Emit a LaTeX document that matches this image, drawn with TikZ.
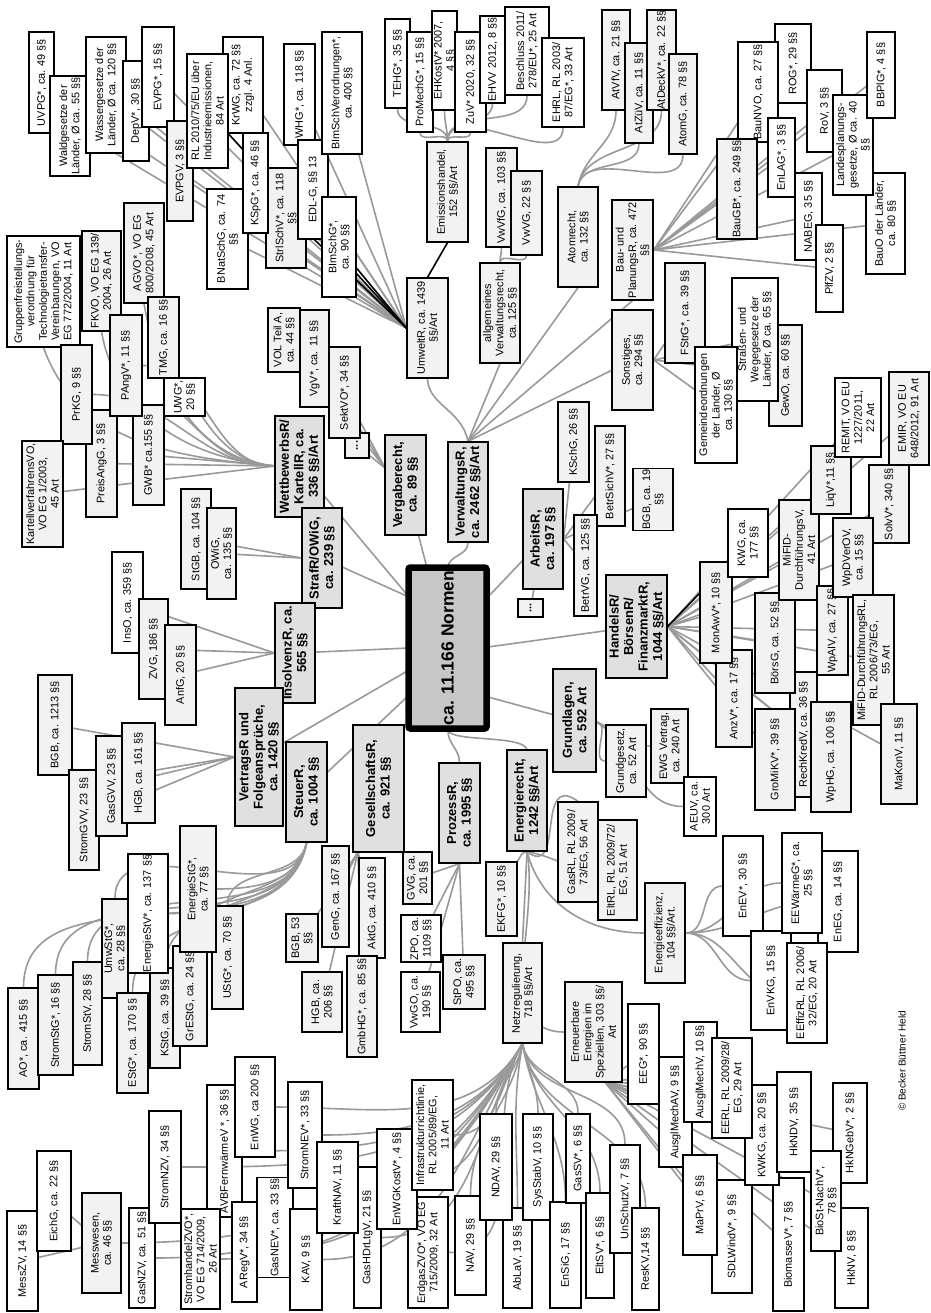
\documentclass[tikz,border=0pt]{standalone}
\usepackage{fontspec}
\setmainfont{Liberation Sans}
\usetikzlibrary{backgrounds}
\definecolor{lg}{gray}{0.95}
\definecolor{cg}{gray}{0.88}
\definecolor{ctr}{gray}{0.78}
\definecolor{ln}{gray}{0.6}
\newcommand{\bx}[7]{\node[#6, minimum width={(#5)-(#3)}, minimum height={(#4)-(#2)}] (#1) at ({((#2)+(#4))/2},{((#3)+(#5))/2}) {#7};}
\tikzset{
 bb/.style={draw=black, line width=1.3pt, rotate=90, align=center, inner sep=0.8pt, font=\fontsize{10.9}{12.3}\selectfont},
 lf/.style={bb, fill=lg},
 lw/.style={bb, fill=white},
 cat/.style={bb, fill=cg, font=\bfseries\fontsize{13}{14.5}\selectfont},
 cn/.style={draw=ln, line width=1.6pt},
 bk/.style={draw=black, line width=1.6pt}
}
\begin{document}
\begin{tikzpicture}[x=1pt,y=-1pt]
\useasboundingbox (0,0) rectangle (930,1313);
% ---------- Umwelt
\bx{uvpg}{29}{32}{54}{133}{lw}{UVPG*, ca. 49 §§}
\bx{wald}{50}{76}{90}{176}{lw}{Waldgesetze der\\Länder, Ø ca. 55 §§}
\bx{wass}{86}{37}{126}{153}{lw}{Wassergesetze der\\Länder, Ø ca. 120 §§}
\bx{depv}{123}{61}{149}{161}{lw}{DepV*, 30 §§}
\bx{evpg}{142}{27}{174}{127}{lw}{EVPG*, 15 §§}
\bx{evpgv}{167}{121}{193}{221}{lf}{EVPGV, 3 §§}
\bx{krwg}{223}{37}{263}{133}{lw}{KrWG, ca. 72 §§\\zzgl. 4 Anl.}
\bx{rl2010}{187}{54}{228}{168}{lw}{RL 2010/75/EU über\\Industrieemissionen,\\84 Art}
\bx{bnat}{207}{189}{248}{289}{lw}{BNatSchG, ca. 74\\§§}
\bx{strl}{266}{168}{306}{268}{lf}{StrlSchV*, ca. 118\\§§}
\bx{kspg}{243}{133}{268}{233}{lw}{KSpG*, ca. 46 §§}
\bx{whg}{284}{44}{315}{145}{lw}{WHG*, ca. 118 §§}
\bx{edlg}{298}{140}{328}{239}{lw}{EDL-G, §§ 13}
\bx{bimschvo}{322}{32}{362}{154}{lw}{BImSchVerordnungen*,\\ca. 400 §§}
\bx{bimschg}{322}{197}{356}{297}{lw}{BImSchG*,\\ca. 90 §§}
% ---------- Emissionshandel
\bx{tehg}{385}{19}{410}{108}{lw}{TEHG*, 35 §§}
\bx{promech}{407}{32}{433}{132}{lw}{ProMechG*, 15 §§}
\bx{ehkost}{432}{11}{457}{110}{lw}{EHKostV* 2007,\\4 §§}
\bx{zuv}{455}{32}{486}{132}{lw}{ZuV* 2020, 32 §§}
\bx{ehvv}{480}{16}{505}{103}{lw}{EHVV 2012, 8 §§}
\bx{beschl}{505}{7}{549}{95}{lw}{Beschluss 2011/\\278/EU*, 25 Art}
\bx{ehrl}{542}{38}{584}{127}{lw}{EHRL, RL 2003/\\87/EG*, 33 Art}
\bx{emiss}{427}{142}{468}{242}{lf}{Emissionshandel,\\152 §§/Art}
\bx{umwelt}{407}{278}{448}{378}{lf}{UmweltR, ca. 1439\\§§/Art}
\bx{vwvfg}{486}{148}{517}{247}{lf}{VwVfG, ca. 103 §§}
\bx{vwvg}{511}{171}{542}{255}{lf}{VwVG, 22 §§}
\bx{allg}{480}{263}{520}{363}{lf}{allgemeines\\Verwaltungsrecht,\\ca. 125 §§}
% ---------- Atom
\bx{atvfv}{602}{10}{630}{110}{lf}{AtVfV, ca. 21 §§}
\bx{atzuv}{625}{43}{653}{143}{lf}{AtZüV, ca. 11 §§}
\bx{atdeck}{647}{10}{676}{110}{lf}{AtDeckV*, ca. 22 §§}
\bx{atomg}{669}{54}{697}{154}{lf}{AtomG, ca. 78 §§}
\bx{atomr}{558}{187}{598}{287}{lf}{Atomrecht,\\ca. 132 §§}
% ---------- Bau
\bx{baupl}{612}{200}{653}{300}{lf}{Bau- und\\PlanungsR, ca. 472\\§§}
\bx{rog}{775}{24}{811}{103}{lw}{ROG*, 29 §§}
\bx{baunvo}{738}{42}{778}{142}{lw}{BauNVO, ca. 27 §§}
\bx{baugb}{717}{139}{757}{239}{lf}{BauGB*, ca. 249 §§}
\bx{enlag}{768}{118}{795}{197}{lw}{EnLAG*, 3 §§}
\bx{rov}{807}{70}{842}{152}{lw}{RoV, 3 §§}
\bx{nabeg}{795}{173}{822}{260}{lw}{NABEG, 35 §§}
\bx{plfzv}{816}{225}{843}{312}{lw}{PlfZV, 2 §§}
\bx{bauo}{866}{173}{905}{274}{lw}{BauO der Länder,\\ca. 80 §§}
\bx{landespl}{833}{95}{873}{195}{lw}{Landesplanungs-\\gesetze, Ø ca. 40\\§§}
\bx{bbplg}{867}{32}{895}{118}{lw}{BBPlG*, 4 §§}
% ---------- Sonstiges
\bx{sonst}{612}{310}{653}{410}{lf}{Sonstiges,\\ca. 294 §§}
\bx{fstrg}{665}{263}{705}{363}{lf}{FStrG*, ca. 39 §§}
\bx{gewo}{769}{325}{802}{426}{lf}{GewO, ca. 60 §§}
\bx{strassen}{732}{278}{778}{401}{lw}{Straßen- und\\Wegegesetze der\\Länder, Ø ca. 65 §§}
\bx{gemeinde}{695}{347}{737}{463}{lw}{Gemeindeordnungen\\der Länder, Ø\\ca. 130 §§}
% ---------- Wettbewerb
\bx{gruppen}{7}{236}{80}{347}{lw}{Gruppenfreistellungs-\\verordnung für\\Technologietransfer-\\Vereinbarungen, VO\\EG 772/2004, 11 Art}
\bx{fkvo}{82}{231}{121}{331}{lf}{FKVO, VO EG 139/\\2004, 26 Art}
\bx{agvo}{124}{203}{164}{303}{lf}{AGVO*, VO EG\\800/2008, 45 Art}
\bx{tmg}{148}{297}{179}{378}{lf}{TMG, ca. 16 §§}
\bx{preisang}{86}{410}{117}{517}{lf}{PreisAngG, 3 §§}
\bx{prkg}{61}{345}{92}{444}{lf}{PrKG, 9 §§}
\bx{gwb}{133}{405}{164}{505}{lf}{GWB* ca.155 §§}
\bx{pangv}{110}{315}{142}{416}{lf}{PAngV*, 11 §§}
\bx{uwg}{164}{378}{205}{416}{lw}{UWG*,\\20 §§}
\bx{kartell}{22}{441}{63}{547}{lf}{KartellverfahrensVO,\\VO EG 1/2003,\\45 Art}
% ---------- Vergabe
\bx{vol}{268}{308}{300}{372}{lf}{VOL Teil A,\\ca. 44 §§}
\bx{vgv}{300}{310}{329}{407}{lf}{VgV*, ca. 11 §§}
\bx{dots1}{345}{433}{369}{458}{lf}{\textbf{...}}
\bx{sektvo}{329}{347}{360}{438}{lf}{SektVO*, 34 §§}
\bx{verg}{385}{435}{426}{535}{cat}{Vergaberecht,\\ca. 89 §§}
% ---------- categories
\bx{wettb}{275}{416}{324}{517}{cat}{WettbewerbsR/\\KartellR, ca.\\336 §§/Art}
\bx{stgb}{181}{489}{211}{589}{lf}{StGB, ca. 104 §§}
\bx{owig}{207}{508}{236}{599}{lf}{OWiG,\\ca. 135 §§}
\bx{straf}{302}{508}{342}{608}{cat}{StrafR/OWiG,\\ca. 239 §§}
\bx{inso}{112}{552}{143}{653}{lw}{InsO, ca. 359 §§}
\bx{zvg}{139}{599}{168}{699}{lf}{ZVG, 186 §§}
\bx{anfg}{165}{625}{196}{725}{lf}{AnfG, 20 §§}
\bx{insolv}{275}{603}{315}{703}{cat}{InsolvenzR, ca.\\565 §§}
\bx{verw}{448}{442}{488}{542}{cat}{VerwaltungsR,\\ca. 2462 §§/Art}
\bx{arbeit}{523}{489}{563}{589}{cat}{ArbeitsR,\\ca. 197 §§}
\bx{dots2}{518}{599}{543}{617}{lf}{\textbf{...}}
\bx{kschg}{558}{402}{589}{482}{lf}{KSchG, 26 §§}
\bx{betrsich}{595}{426}{625}{526}{lf}{BetrSichV*, 27 §§}
\bx{betrvg}{574}{515}{597}{616}{lf}{BetrVG, ca. 125 §§}
\bx{bgbnn}{633}{472}{673}{527}{lf}{BGB, ca. 19\\§§}
\bx{handels}{606}{575}{667}{678}{cat}{HandelsR/\\BörsenR/\\FinanzmarktR,\\1044 §§/Art}
% ---------- Handels leaves
\bx{rechkred}{790}{672}{817}{797}{lf}{RechKredV, ca. 36 §§}
\bx{borsg}{755}{593}{795}{693}{lf}{BörsG, ca. 52 §§}
\bx{gromikv}{755}{709}{795}{810}{lf}{GroMiKV*, 39 §§}
\bx{wphg}{811}{702}{851}{812}{lf}{WpHG, ca. 100 §§}
\bx{anzv}{716}{650}{752}{747}{lf}{AnzV*, ca. 17 §§}
\bx{monawv}{700}{562}{732}{663}{lf}{MonAwV*, 10 §§}
\bx{kwg}{728}{509}{768}{577}{lw}{KWG, ca.\\177 §§}
\bx{mifidv}{779}{500}{819}{600}{lf}{MiFID-\\DurchführungsV,\\41 Art}
\bx{liqv}{811}{446}{851}{514}{lf}{LiqV*,11 §§}
\bx{remit}{835}{378}{881}{457}{lw}{REMIT, VO EU\\1227/2011,\\22 Art}
\bx{solvv}{869}{465}{909}{543}{lf}{SolvV*, 340 §§}
\bx{wpaiv}{817}{586}{848}{675}{lf}{WpAIV, ca. 27 §§}
\bx{wpdverov}{833}{518}{873}{597}{lf}{WpDVerOV,\\ca. 15 §§}
\bx{emir}{889}{372}{929}{465}{lf}{EMIR, VO EU\\648/2012, 91 Art}
\bx{mifidrl}{853}{595}{894}{725}{lf}{MiFID-DurchführungsRL,\\RL 2006/73/EG,\\55 Art}
\bx{makonv}{881}{704}{917}{804}{lf}{MaKonV, 11 §§}
% ---------- Grundlagen
\bx{grundl}{553}{669}{596}{772}{cat}{Grundlagen,\\ca. 592 Art}
\bx{gg}{606}{725}{646}{797}{lf}{Grundgesetz,\\ca. 52 Art}
\bx{ewg}{651}{709}{688}{783}{lf}{EWG Vertrag,\\ca. 240 Art}
\bx{aeuv}{684}{777}{716}{836}{lw}{AEUV, ca.\\300 Art}
% ---------- Vertrag
\bx{vertr}{235}{688}{283}{826}{cat}{VertragsR und\\Folgeansprüche,\\ca. 1420 §§}
\bx{bgbzt}{38}{675}{72}{775}{lf}{BGB, ca. 1213 §§}
\bx{stromgvv}{69}{770}{99}{870}{lf}{StromGVV, 23 §§}
\bx{gasgvv}{96}{736}{127}{836}{lf}{GasGVV, 23 §§}
\bx{hgbhs}{122}{723}{155}{823}{lf}{HGB, ca. 161 §§}
% ---------- Steuer
\bx{steuer}{286}{742}{327}{842}{cat}{SteuerR,\\ca. 1004 §§}
\bx{ao}{8}{988}{39}{1089}{lf}{AO*, ca. 415 §§}
\bx{stromstg}{38}{975}{73}{1075}{lf}{StromStG*, 16 §§}
\bx{stromstv}{73}{962}{102}{1065}{lf}{StromStV, 28 §§}
\bx{umwstg}{102}{899}{128}{998}{lf}{UmwStG*,\\ca. 28 §§}
\bx{estg}{117}{993}{148}{1093}{lf}{EStG*, ca. 170 §§}
\bx{kstg}{150}{968}{180}{1068}{lf}{KStG, ca. 39 §§}
\bx{grestg}{173}{946}{207}{1046}{lf}{GrEStG, ca. 24 §§}
\bx{energiestv}{128}{854}{168}{973}{lw}{EnergieStV*, ca. 137 §§}
\bx{ustg}{212}{906}{243}{1009}{lf}{UStG*, ca. 70 §§}
\bx{energiestg}{180}{826}{216}{952}{lf}{EnergieStG*,\\ca. 77 §§}
% ---------- Gesellschaft
\bx{gesell}{353}{725}{404}{852}{cat}{GesellschaftsR,\\ca. 921 §§}
\bx{bgbft}{286}{914}{318}{962}{lf}{BGB, 53\\§§}
\bx{hgbzs}{302}{972}{342}{1032}{lf}{HGB, ca.\\206 §§}
\bx{geng}{322}{846}{349}{947}{lf}{GenG, ca. 167 §§}
\bx{aktg}{359}{858}{385}{958}{lf}{AktG, ca. 410 §§}
\bx{gmbhg}{347}{956}{377}{1057}{lf}{GmbHG*, ca. 85 §§}
% ---------- Prozess
\bx{prozess}{439}{763}{480}{863}{cat}{ProzessR,\\ca. 1995 §§}
\bx{gvg}{403}{852}{432}{904}{lf}{GVG, ca.\\201 §§}
\bx{zpo}{401}{915}{441}{962}{lw}{ZPO, ca.\\1109 §§}
\bx{vwgo}{401}{972}{440}{1032}{lw}{VwGO, ca.\\190 §§}
\bx{stpo}{443}{955}{485}{1009}{lf}{StPO, ca.\\495 §§}
% ---------- Energie
\bx{energie}{507}{750}{547}{851}{cat}{Energierecht,\\1242 §§/Art}
\bx{ekfg}{486}{862}{517}{936}{lf}{EKFG*, 10 §§}
\bx{gasrl}{558}{802}{598}{902}{lf}{GasRL, RL 2009/\\73/EG, 56 Art}
\bx{eltrl}{598}{820}{637}{920}{lf}{EltRL, RL 2009/72/\\EG, 51 Art}
\bx{netz}{503}{943}{542}{1043}{lf}{Netzregulierung,\\718 §§/Art}
\bx{erneu}{565}{982}{622}{1082}{lf}{Erneuerbare\\Energien im\\Speziellen, 303 §§/\\Art}
\bx{effiz}{645}{883}{685}{983}{lf}{Energieeffizienz,\\104 §§/Art.}
\bx{enev}{723}{836}{763}{936}{lw}{EnEV*, 30 §§}
\bx{envkg}{751}{931}{791}{1030}{lw}{EnVKG, 15 §§}
\bx{eneg}{818}{851}{858}{952}{lw}{EnEG, ca. 14 §§}
\bx{eewg}{782}{833}{822}{933}{lw}{EEWärmeG*, ca.\\25 §§}
\bx{eeffizrl}{787}{943}{827}{1043}{lw}{EEffizRL, RL 2006/\\32/EG, 20 Art}
% ---------- Erneuerbare
\bx{eeg}{628}{1004}{659}{1104}{lw}{EEG*, 90 §§}
\bx{ausglav}{659}{1057}{692}{1167}{lw}{AusglMechAV, 9 §§}
\bx{ausglv}{684}{1022}{717}{1122}{lw}{AusglMechV, 10 §§}
\bx{sdlwind}{712}{1180}{752}{1293}{lw}{SDLWindV*, 9 §§}
\bx{maprv}{683}{1155}{717}{1255}{lw}{MaPrV, 6 §§}
\bx{biomasse}{773}{1178}{804}{1311}{lw}{BiomasseV*, 7 §§}
\bx{kwkg}{745}{1085}{779}{1185}{lw}{KWKG, ca. 20 §§}
\bx{eerl}{712}{1038}{752}{1138}{lw}{EERL, RL 2009/28/\\EG, 29 Art}
\bx{hkndv}{777}{1072}{811}{1172}{lw}{HkNDV, 35 §§}
\bx{hkngebv}{833}{1083}{867}{1183}{lw}{HkNGebV*, 2 §§}
\bx{hknv}{835}{1208}{868}{1308}{lw}{HkNV, 8 §§}
\bx{biost}{811}{1151}{841}{1251}{lw}{BioSt-NachV*,\\78 §§}
\node[rotate=90, font=\fontsize{10}{11}\selectfont] (copy) at (902,1061) {© Becker Büttner Held};
% ---------- Netz
\bx{messzv}{7}{1211}{38}{1311}{lw}{MessZV, 14 §§}
\bx{eichg}{37}{1151}{71}{1251}{lw}{EichG, ca. 22 §§}
\bx{messw}{82}{1193}{121}{1293}{lf}{Messwesen,\\ca. 46 §§}
\bx{gasnzv}{129}{1208}{155}{1308}{lw}{GasNZV, ca. 51 §§}
\bx{stromnzv}{149}{1111}{181}{1223}{lw}{StromNZV, 34 §§}
\bx{avbfw}{207}{1085}{242}{1217}{lw}{AVBFernwärmeV *, 36 §§}
\bx{stromhzvo}{181}{1209}{220}{1309}{lw}{StromhandelZVO*,\\VO EG 714/2009,\\26 Art}
\bx{enwg}{235}{1057}{275}{1157}{lw}{EnWG, ca 200 §§}
\bx{aregv}{232}{1202}{257}{1302}{lw}{ARegV*, 34 §§}
\bx{gasnev}{257}{1178}{293}{1277}{lw}{GasNEV*, ca. 33 §§}
\bx{stromnev}{288}{1082}{322}{1188}{lw}{StromNEV*, 33 §§}
\bx{kav}{290}{1209}{322}{1310}{lw}{KAV, 9 §§}
\bx{gashdr}{354}{1167}{381}{1308}{lw}{GasHDrLtgV, 21 §§}
\bx{kraftnav}{317}{1142}{358}{1233}{lw}{KraftNAV, 11 §§}
\bx{erdgas}{408}{1197}{448}{1308}{lw}{ErdgasZVO*, VO EG\\715/2009, 32 Art}
\bx{enwgkost}{377}{1129}{417}{1229}{lw}{EnWGKostV*, 4 §§}
\bx{infra}{412}{1080}{453}{1190}{lw}{Infrastrukturrichtlinie,\\RL 2005/89/EG,\\11 Art}
\bx{nav}{455}{1196}{486}{1295}{lw}{NAV, 29 §§}
\bx{ablav}{503}{1208}{532}{1308}{lw}{AbLaV, 19 §§}
\bx{ndav}{480}{1114}{512}{1220}{lw}{NDAV, 29 §§}
\bx{sysstab}{523}{1114}{553}{1220}{lw}{SysStabV, 10 §§}
\bx{ensig}{550}{1202}{581}{1308}{lw}{EnSiG, 17 §§}
\bx{gassv}{566}{1114}{590}{1203}{lw}{GasSV*, 6 §§}
\bx{eltsv}{586}{1193}{614}{1298}{lw}{EltSV*, 6 §§}
\bx{unschutz}{610}{1145}{640}{1253}{lw}{UnSchutzV, 7 §§}
\bx{reskv}{632}{1208}{659}{1310}{lw}{ResKV,14 §§}
% ---------- center
\node[draw=black, line width=6.5pt, fill=ctr, rotate=90, rounded corners=2pt, minimum width=161, minimum height=78, inner sep=0pt, font=\bfseries\fontsize{17.5}{20}\selectfont] (center) at (447.5,648) {ca. 11.166 Normen};
% ================= connectors
\begin{pgfonlayer}{background}
\fill[white] (0,0) rectangle (930,1313);
\coordinate (cA) at (409,597);
\coordinate (cB) at (427,568);
\coordinate (cC) at (448,568);
\coordinate (cD) at (488,597);
\coordinate (cE) at (488,647);
\coordinate (cF) at (409,648);
\coordinate (cG) at (409,670);
\coordinate (cH) at (409,695);
\coordinate (cI) at (448,731);
\coordinate (cK) at (488,697);
\draw[cn] (cA) -- (wettb);
\draw[cn] (cA) -- (straf);
\draw[cn] (cB) -- (verg);
\draw[cn] (cC) .. controls (448,555) and (468,556) .. (verw.west);
\draw[cn] (cD) -- (arbeit);
\draw[cn] (cE) -- (handels);
\draw[cn] (cF) -- (insolv);
\draw[cn] (cG) -- (vertr);
\draw[cn] (cH) -- (steuer);
\draw[cn] (cI) to[out=180,in=0] (gesell.south east);
\draw[cn] (cI) to[out=-90,in=90] (prozess.east);
\draw[cn] (cI) .. controls (455,742) and (522,735) .. (energie.east);
\draw[cn] (cK) -- (grundl);
% Verwaltung
\draw[cn] (verw.east) .. controls (462,410) and (428,405) .. (umwelt.west);
\draw[cn] (verw.east) -- (allg.west);
\draw[cn] (verw.east) -- (atomr.west);
\draw[cn] (verw.east) -- (baupl.west);
\draw[cn] (verw.east) -- (sonst);
% Umwelt
\foreach \t in {uvpg,wald,wass,depv,evpg,evpgv,krwg,bnat,strl,whg,edlg,bimschvo}
  \draw[cn] (umwelt.north) -- (\t);
\draw[bk] (umwelt.north) -- (rl2010);
\draw[bk] (umwelt.north) -- (kspg);
\draw[bk] (umwelt.north) -- (bimschg);
\draw[bk] (umwelt.east) -- (emiss.west);
\foreach \t in {tehg,promech,ehkost,zuv,ehvv,beschl,ehrl}
  \draw[cn] (emiss.east) to[out=90,in=-90] (\t.west);
\foreach \t in {vwvfg,vwvg}
  \draw[cn] (allg.east) to[out=90,in=-90] (\t.west);
\foreach \t in {atvfv,atzuv,atdeck,atomg}
  \draw[cn] (atomr.east) to[out=80,in=-90] (\t.west);
\foreach \t in {baugb,baunvo,rog,enlag,rov,nabeg,landespl,bbplg,bauo,plfzv}
  \draw[cn] (baupl.south) -- (\t);
\foreach \t in {fstrg,strassen,gewo,gemeinde}
  \draw[cn] (sonst.south) -- (\t);
% Wettbewerb
\coordinate (hW) at (275,466);
\foreach \t in {gwb,preisang,kartell}
  \draw[cn] (hW) -- (\t);
\foreach \t in {prkg,pangv}
  \draw[cn] (hW) to[out=180,in=0] (\t.south);
\draw[cn] (hW) to[out=175,in=-60] (tmg.south west);
\draw[cn] (hW) to[out=180,in=-45] (uwg.west);
\draw[cn] (hW) to[out=175,in=-80] (agvo.west);
\draw[cn] (hW) to[out=175,in=-80] (fkvo.west);
\draw[cn] (hW) to[out=175,in=-70] (gruppen.west);
% Vergabe
\coordinate (hV) at (385,468);
\foreach \t in {vol,vgv,sektvo,dots1}
  \draw[cn] (hV) -- (\t);
\foreach \t in {owig,stgb}
  \draw[cn] (straf.north) -- (\t);
\foreach \t in {inso,zvg,anfg}
  \draw[cn] (insolv.north) -- (\t);
\foreach \t in {bgbzt,stromgvv,gasgvv,hgbhs}
  \draw[cn] (vertr.north) -- (\t);
% Steuer
\draw[cn] (steuer.west) to[out=-100,in=0] (energiestg.south);
\draw[cn] (steuer.west) to[out=-100,in=0] (energiestv.south);
\foreach \t in {umwstg,ustg,grestg,kstg,stromstv,stromstg,ao,estg}
  \draw[cn] (steuer.west) to[out=-100,in=90] (\t.east);
% Gesellschaft
\coordinate (hG) at (358,852);
\foreach \t in {bgbft,hgbzs,geng,aktg,gmbhg}
  \draw[cn] (hG) -- (\t);
\foreach \t in {gvg,zpo,vwgo,stpo}
  \draw[cn] (prozess.west) -- (\t);
% Energie
\draw[cn] (energie.west) to[out=180,in=60] (ekfg.south east);
\draw[cn] (energie.west) .. controls (565,880) and (535,770) .. (gasrl.east);
\draw[cn] (energie.west) to[out=-10,in=180] (eltrl.north);
\draw[cn] (energie.west) -- (netz.east);
\draw[cn] (energie.west) to[out=-80,in=180] (erneu.north);
\draw[cn] (energie.west) to[out=-75,in=180] (effiz.north);
\foreach \t in {enev,eewg,eneg,envkg,eeffizrl}
  \draw[cn] (effiz.south) to[out=0,in=180] (\t.north);
% Grundlagen
\coordinate (hGr) at (596,722);
\draw[cn] (hGr) to[out=0,in=180] (gg.north);
\draw[cn] (hGr) to[out=-20,in=180] (ewg.north);
\draw[cn] (hGr) to[out=-30,in=180] (aeuv.north);
% Handels
\foreach \t in {remit,emir,liqv,solvv,mifidv,wpdverov,monawv,borsg,wpaiv,mifidrl,anzv,gromikv,rechkred,wphg,makonv}
  \draw[cn] (handels.south) -- (\t);
\draw[bk] (handels.south) -- (kwg);
% Arbeit
\foreach \t in {kschg,betrsich,betrvg,bgbnn}
  \draw[cn] (arbeit.south) -- (\t);
\draw[cn] (arbeit) -- (dots2);
% Netz
\foreach \t in {messw,gasnzv,stromnzv,stromhzvo,avbfw,enwg,aregv,gasnev,stromnev,kav,kraftnav,gashdr,enwgkost,infra,erdgas}
  \draw[cn] (netz.west) to[out=-120,in=0] (\t.south);
\foreach \t in {nav,ndav,ablav}
  \draw[cn] (netz.west) to[out=-100,in=90] (\t.east);
\foreach \t in {sysstab,ensig,gassv,eltsv,unschutz,reskv}
  \draw[cn] (netz.west) to[out=-80,in=90] (\t.east);
\draw[cn] (messw) -- (eichg);
\draw[cn] (messw) -- (messzv);
% Erneuerbare
\coordinate (hR) at (605,1082);
\foreach \t in {eeg,ausglav,ausglv,eerl,kwkg,hkndv,hkngebv,maprv,sdlwind,biomasse,biost,hknv}
  \draw[cn] (hR) -- (\t);
\end{pgfonlayer}
\end{tikzpicture}
\end{document}
